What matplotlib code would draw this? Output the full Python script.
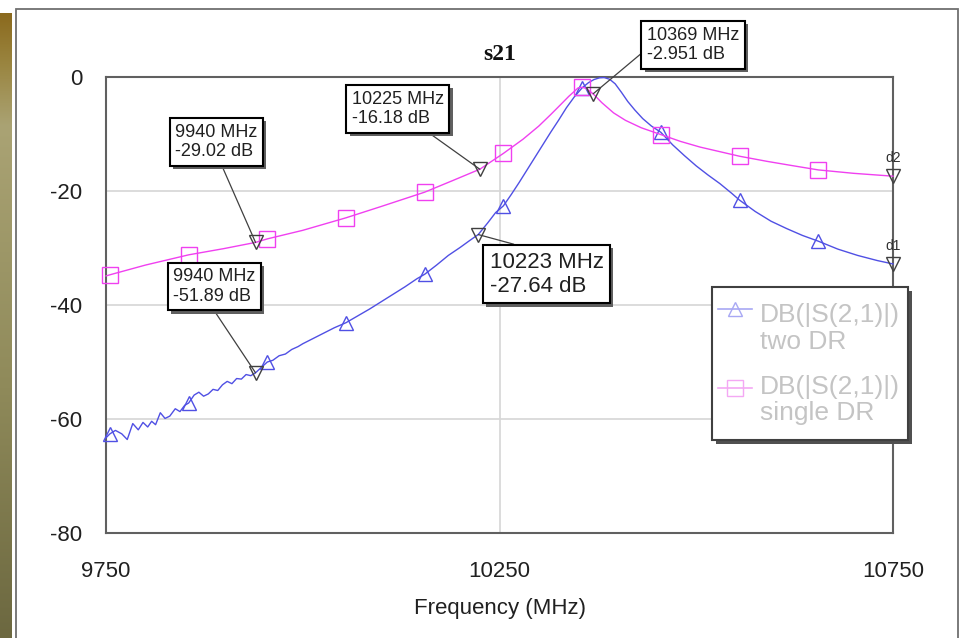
import numpy as np
import matplotlib
matplotlib.use('Agg')
import matplotlib.pyplot as plt
import matplotlib.patheffects as pe
from matplotlib.lines import Line2D
from matplotlib.patches import Rectangle
from matplotlib.colors import LinearSegmentedColormap

plt.rcParams['font.family'] = ['Liberation Sans', 'DejaVu Sans']

# ---------------- data ----------------
two_f = [9750, 9755, 9762, 9770, 9777, 9784, 9791, 9797, 9803, 9808, 9813, 9819, 9825,
         9831, 9838, 9844, 9850, 9855, 9862, 9868, 9874, 9880, 9886, 9892, 9898, 9904,
         9910, 9916, 9922, 9928, 9934, 9940, 9947, 9955, 9962, 9970, 9978, 9986, 9994,
         10000, 10010, 10020, 10030, 10040, 10055, 10070, 10085, 10100, 10115, 10130,
         10145, 10155, 10170, 10185, 10200, 10212, 10223, 10235, 10245, 10255, 10265,
         10275, 10285, 10295, 10305, 10315, 10325, 10335, 10345, 10355, 10363, 10370,
         10377, 10383, 10390, 10397, 10405, 10413, 10422, 10432, 10443, 10455, 10470,
         10485, 10500, 10515, 10530, 10545, 10555, 10575, 10595, 10615, 10635, 10655,
         10680, 10705, 10730, 10750]
two_db = [-63.3, -62.6, -62.0, -62.6, -63.6, -60.8, -61.9, -60.6, -61.4, -60.4, -61.0, -58.9, -59.9,
          -59.5, -58.2, -58.7, -57.6, -57.2, -55.8, -55.3, -56.0, -55.6, -54.8, -55.0, -54.0, -53.4,
          -53.8, -52.9, -53.0, -52.2, -52.4, -51.89, -51.0, -50.0, -49.7, -48.9, -48.6, -47.8, -47.3,
          -46.8, -46.1, -45.4, -44.7, -44.0, -43.1, -41.9, -40.7, -39.4, -38.1, -36.8,
          -35.4, -34.6, -33.0, -31.3, -29.9, -28.7, -27.64, -25.6, -23.8, -22.6, -20.6,
          -18.5, -16.3, -14.1, -11.9, -9.7, -7.6, -5.4, -3.5, -1.9, -1.0, -0.45,
          -0.15, -0.1, -0.4, -1.2, -2.7, -4.3, -5.8, -7.3, -8.6, -9.7, -11.9,
          -13.8, -15.6, -17.2, -18.7, -20.4, -21.6, -23.6, -25.3, -26.6, -27.8, -28.8,
          -30.2, -31.3, -32.2, -32.8]

one_f = [9750, 9755, 9800, 9855, 9900, 9940, 9955, 10000, 10055, 10100, 10155, 10190,
         10225, 10255, 10280, 10300, 10315, 10328, 10338, 10346, 10350, 10355, 10360,
         10369, 10380, 10395, 10410, 10430, 10455, 10480, 10505, 10530, 10555, 10590,
         10620, 10655, 10700, 10750]
one_db = [-34.9, -34.7, -33.0, -31.2, -30.1, -29.02, -28.4, -26.9, -24.7, -22.7, -20.2, -18.2,
          -16.18, -13.4, -10.9, -8.6, -6.6, -4.8, -3.4, -2.4, -1.9, -1.8, -2.0,
          -2.951, -4.5, -6.3, -7.6, -8.9, -10.1, -11.3, -12.3, -13.1, -13.9, -14.8,
          -15.5, -16.3, -16.9, -17.4]

symbol_f = [9755, 9855, 9955, 10055, 10155, 10255, 10355, 10455, 10555, 10655]

# marker readouts
mk_f = [9940, 9940, 10225, 10223, 10369]
mk_db = [-29.02, -51.89, -16.18, -27.64, -2.951]
mk_text = ['9940 MHz\n-29.02 dB', '9940 MHz\n-51.89 dB', '10225 MHz\n-16.18 dB',
           '10223 MHz\n-27.64 dB', '10369 MHz\n-2.951 dB']
mk_tx = [9890, 9888, 10121, 10310, 10496]
mk_ty = [-11.4, -36.8, -5.6, -34.6, 5.6]
mk_fs = [13, 13, 13, 16, 13]
mk_rel = [(0.54, 0), (0.45, 0), (0.75, 0), (0.45, 1), (0, 0.4)]

d_f = [10750, 10750]
d_db = [-32.8, -17.4]
d_lab = ['d1', 'd2']

x_ticks = [9750, 10250, 10750]
y_ticks = [0, -20, -40, -60, -80]
legend_labels = [('DB(|S(2,1)|)', 'two DR'), ('DB(|S(2,1)|)', 'single DR')]

BLUE = '#5050e4'
PINK = '#f040f0'

W, H = 961, 638
fig = plt.figure(figsize=(W / 100, H / 100), dpi=100)
fig.patch.set_facecolor('white')


def P(x, y):
    return (x / W, 1 - y / H)


# left decorative strip
sax = fig.add_axes([0, 0, 12 / W, 1 - 13 / H])
cmap = LinearSegmentedColormap.from_list('gold', [(0, '#8b6a1e'), (0.08, '#9a8540'),
                                                  (0.18, '#aaa374'), (0.6, '#8f8a5a'),
                                                  (1, '#6c6840')])
sax.imshow(np.linspace(0, 1, 256).reshape(-1, 1), aspect='auto', cmap=cmap)
sax.axis('off')

# outer frame
fig.patches.append(Rectangle(P(16, 645), (958 - 16) / W, (645 - 9) / H, transform=fig.transFigure,
                             fill=False, ec='#707070', lw=1.3))

ax = fig.add_axes([106 / W, 1 - 533 / H, 787 / W, 456 / H])
ax.set_xlim(9750, 10750)
ax.set_ylim(-80, 0)
ax.set_xticks(x_ticks)
ax.set_yticks(y_ticks)
ax.set_xticklabels([str(v) for v in x_ticks])
ax.set_yticklabels([str(v) for v in y_ticks])
ax.tick_params(length=0, labelsize=16, colors='#202020')
ax.tick_params(axis='y', pad=17)
ax.tick_params(axis='x', pad=20)
ax.grid(True, color='#d6d6d6', lw=1.2)
ax.set_axisbelow(True)
for s in ax.spines.values():
    s.set_color('#606060')
    s.set_linewidth(1.5)
ax.set_xlabel('Frequency (MHz)', fontsize=16, labelpad=12, color='#202020')
ax.set_title('s21', fontfamily=['Liberation Serif', 'DejaVu Serif'], fontweight='bold',
             fontsize=17, pad=12, color='#101010')

two_idx = [two_f.index(f) for f in symbol_f]
one_idx = [one_f.index(f) for f in symbol_f]
ax.plot(two_f, two_db, color=BLUE, lw=1.0, marker='^', markevery=two_idx, ms=10,
        mfc='none', mec=BLUE, mew=1.0, zorder=3, clip_on=False)
ax.plot(one_f, one_db, color=PINK, lw=1.0, marker='s', markevery=one_idx, ms=11,
        mfc='none', mec=PINK, mew=1.0, zorder=3, clip_on=False)

# readout markers
ax.plot(mk_f, mk_db, ls='none', marker='v', ms=10, mfc='none', mec='#404040', mew=1.0,
        zorder=4, clip_on=False)
ax.plot(d_f, d_db, ls='none', marker='v', ms=10, mfc='none', mec='#404040', mew=1.0,
        zorder=4, clip_on=False)
for f, v, lab in zip(d_f, d_db, d_lab):
    ax.annotate(lab, (f, v), xytext=(0, 8), textcoords='offset points', ha='center',
                va='bottom', fontsize=10, color='#303030', annotation_clip=False)

for f, v, t, tx, ty, fs, rp in zip(mk_f, mk_db, mk_text, mk_tx, mk_ty, mk_fs, mk_rel):
    ann = ax.annotate(t, xy=(f, v), xytext=(tx, ty), textcoords='data', ha='center',
                      va='center', multialignment='left', fontsize=fs, color='#202020',
                      bbox=dict(boxstyle='square,pad=0.3', fc='white', ec='black', lw=1.5),
                      arrowprops=dict(arrowstyle='-', color='#404040', lw=0.9, relpos=rp,
                                      shrinkA=0, shrinkB=0),
                      zorder=6, annotation_clip=False)
    ann.get_bbox_patch().set_path_effects([
        pe.SimplePatchShadow(offset=(2.2, -2.2), shadow_rgbFace='#606060', alpha=1.0),
        pe.Normal()])

# legend (drawn manually)
fig.patches.append(Rectangle(P(716, 444), 196 / W, 153 / H, transform=fig.transFigure,
                             fc='#505050', ec='none', zorder=10))
fig.patches.append(Rectangle(P(712, 440), 196 / W, 153 / H, transform=fig.transFigure,
                             fc='white', ec='#404040', lw=1.5, zorder=11))
handles = [('^', 309, 315, 342), ('s', 388, 387, 413)]
faded = ['#a8a8f4', '#f4a8f4']
for (m, hy, y1, y2), fc, (l1, l2) in zip(handles, faded, legend_labels):
    fig.add_artist(Line2D([718 / W, 752 / W], [1 - hy / H] * 2, transform=fig.transFigure,
                          color=fc, lw=1.2, zorder=12))
    fig.add_artist(Line2D([735 / W], [1 - hy / H], transform=fig.transFigure, color=fc,
                          marker=m, ms=10 if m == '^' else 11, mfc='none', mec=fc, zorder=12))
    fig.text(*P(760, y1), l1, fontsize=19, color='#c4c4c4', va='center', ha='left', zorder=12)
    fig.text(*P(760, y2), l2, fontsize=19, color='#c4c4c4', va='center', ha='left', zorder=12)

fig.savefig('out.png', dpi=100)
